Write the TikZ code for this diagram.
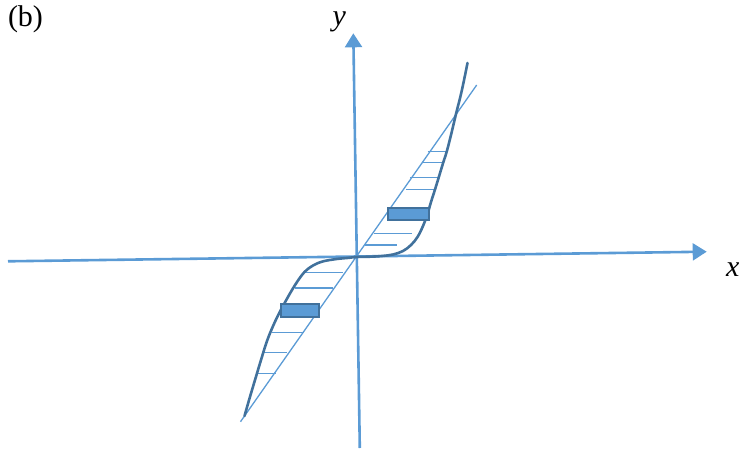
\documentclass[tikz,border=0pt]{standalone}
\usepackage{fontspec}
\setmainfont{Liberation Serif}
\usetikzlibrary{arrows.meta}
\definecolor{axisblue}{HTML}{5B9BD5}
\definecolor{darkblue}{HTML}{41719C}
\begin{document}
\begin{tikzpicture}[x=1pt,y=-1pt,
  axisline/.style={draw=axisblue,line width=2.6pt,-{Triangle[length=14pt,width=17pt]}},
  thinline/.style={draw=axisblue,line width=1.3pt},
  curveline/.style={draw=darkblue,line width=2.6pt,line cap=round},
  bar/.style={draw=darkblue,fill=axisblue,line width=2pt},
  lbl/.style={inner sep=0pt,anchor=base,font=\fontsize{30}{36}\selectfont}]
\path[use as bounding box] (0,0) rectangle (740,450);
% axes
\coordinate (xs) at (8,261.3);
\coordinate (xe) at (706.7,251.7);
\coordinate (ys) at (359.8,448);
\coordinate (ye) at (353.3,33.3);
\draw[axisline] (xs) -- (xe);
\draw[axisline] (ys) -- (ye);
% diagonal line
\coordinate (ds) at (240.5,421.7);
\coordinate (de) at (476.7,85);
\draw[thinline] (ds) -- (de);
% hatching
\foreach \ya/\xa/\xb in {151.7/427.7/446.7, 162.3/423.3/443.3, 177.5/410/438, 189.5/406/434,
  233.3/374/412, 245/365/397, 272.3/304.3/343.3, 288/295/333.3, 332.7/272.3/304.3,
  352.7/264.3/286.7, 373.3/258.3/275.7}
  \draw[thinline] (\xa,\ya) -- (\xb,\ya);
% curve
\draw[curveline] plot[smooth,tension=0.6] coordinates {
  (244.5,416) (249.5,398.5) (255,380) (261,360) (267,341) (273.5,325) (280,311.5)
  (286,300.5) (292,290) (298,280.5) (305,271.5) (313.3,265.3) (323.3,261.3) (336.7,259)
  (347,258) (357,257) (370,256.7) (382,256) (393,254.5) (403,251) (411,245) (417.5,237)
  (423,226) (427.5,214) (431,202) (435,189.5) (438.7,177.5) (443.3,162.3) (446.7,151.7)
  (451,135) (456,114) (461.7,91) (467.5,63)};
% bars
\node[bar,inner sep=0pt,minimum width=40.8pt,minimum height=12pt] (b1) at (408.1,213.5) {};
\node[bar,inner sep=0pt,minimum width=38.5pt,minimum height=12.5pt] (b2) at (300.2,310.5) {};
% labels
\node[lbl] (tb) at (25.5,26) {(b)};
\node[lbl] (ty) at (339.3,25.7) {\itshape y};
\node[lbl] (tx) at (732.7,276.7) {\itshape x};
\end{tikzpicture}
\end{document}
